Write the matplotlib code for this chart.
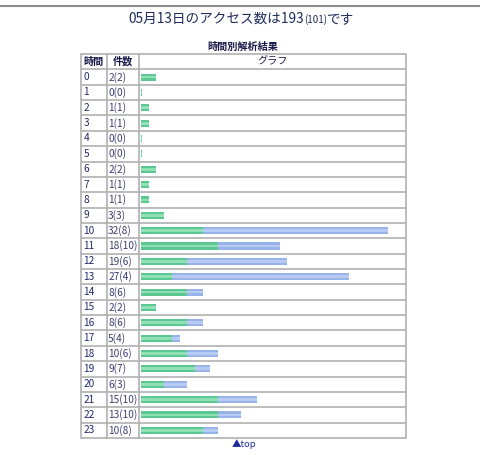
import numpy as np
import matplotlib
matplotlib.use("Agg")
import matplotlib.pyplot as plt
from matplotlib.lines import Line2D

plt.rcParams['font.family'] = ['Noto Sans CJK JP', 'DejaVu Sans']

hours = list(range(24))
total = [2, 0, 1, 1, 0, 0, 2, 1, 1, 3, 32, 18, 19, 27, 8, 2, 8, 5, 10, 9, 6, 15, 13, 10]
unique = [2, 0, 1, 1, 0, 0, 2, 1, 1, 3, 8, 10, 6, 4, 6, 2, 6, 4, 6, 7, 3, 10, 10, 8]
title_main = "05月13日のアクセス数は193"
title_sub = "(101)"
title_end = "です"
table_title = "時間別解析結果"
headers = ["時間", "件数", "グラフ"]
footer = "▲top"

W, H = 480, 455
fig = plt.figure(figsize=(W / 100, H / 100), dpi=100)
fig.patch.set_facecolor("white")

def fx(px):
    return px / W

def fy(py):
    return 1 - py / H

# table geometry (pixels)
tl, tr, tt, tb = 81, 406, 54, 438
zero_px, px_per_unit = 141, 7.71

ax = fig.add_axes([fx(tl), fy(tb), fx(tr) - fx(tl), (tb - tt) / H])
ax.set_xlim((tl - zero_px) / px_per_unit, (tr - zero_px) / px_per_unit)
ax.set_ylim(23.5, -1.5)
ax.axis("off")

xl = (tl - zero_px) / px_per_unit
xd1 = (106.5 - zero_px) / px_per_unit
xd2 = (139 - zero_px) / px_per_unit
xr = (tr - zero_px) / px_per_unit

line_c = "#b0b0b0"
lw = 1.2
for yb in np.arange(-1.5, 24.0, 1.0):
    ax.plot([xl, xr], [yb, yb], color=line_c, lw=lw, solid_capstyle="butt", clip_on=False)
for xv in [xl, xd1, xd2, xr]:
    ax.plot([xv, xv], [-1.5, 23.5], color=line_c, lw=lw, clip_on=False)

# bars
h = 0.46
tot = np.array(total, dtype=float)
uni = np.array(unique, dtype=float)
tw = np.maximum(tot, 0.12)
uw = np.maximum(uni, 0.12)
ax.barh(hours, tw, height=h, color="#97b3e8", left=0)
ax.barh(hours, tw, height=h * 0.4, color="#b7caf2", left=0)
ax.barh(hours, uw, height=h, color="#5cc793", left=0)
ax.barh(hours, uw, height=h * 0.4, color="#8ee0b5", left=0)

# text
txt_c = "#1f2a6b"
fs = 7.3
for hr, t, u in zip(hours, total, unique):
    ax.text(xl + 0.3, hr, str(hr), fontsize=fs, color=txt_c, va="center", ha="left")
    ax.text(xd1 + 0.2, hr, f"{t}({u})", fontsize=fs, color="#3a3f6e", va="center", ha="left")

ax.text((xl + xd1) / 2, -1, headers[0], fontsize=fs, color="#1a1a4a", va="center", ha="center", fontweight="bold")
ax.text((xd1 + xd2) / 2, -1, headers[1], fontsize=fs, color="#1a1a4a", va="center", ha="center", fontweight="bold")
ax.text((xd2 + xr) / 2, -1, headers[2], fontsize=fs, color="#1a1a4a", va="center", ha="center")

fig.text(fx(243), fy(47), table_title, fontsize=7.3, color="#1a1a4a", ha="center", va="center", fontweight="bold")

# top rule
fig.add_artist(Line2D([0, 1], [fy(5.5), fy(5.5)], color="#8c8c8c", lw=1.5))

# title with smaller (101)
fig.canvas.draw()
r = fig.canvas.get_renderer()
tcol = "#1d2b5c"
t1 = fig.text(0, fy(19), title_main, fontsize=9.8, color=tcol, ha="left", va="center")
t2 = fig.text(0, fy(20), title_sub, fontsize=7.0, color=tcol, ha="left", va="center")
t3 = fig.text(0, fy(19), title_end, fontsize=9.8, color=tcol, ha="left", va="center")
w1 = t1.get_window_extent(r).width
w2 = t2.get_window_extent(r).width
w3 = t3.get_window_extent(r).width
start = 241 - (w1 + w2 + w3) / 2
t1.set_x(fx(start))
t2.set_x(fx(start + w1))
t3.set_x(fx(start + w1 + w2))

fig.text(fx(244), fy(444), footer, fontsize=6.8, color="#1a2a9a", ha="center", va="center")

fig.savefig("out.png", dpi=100, facecolor="white")
